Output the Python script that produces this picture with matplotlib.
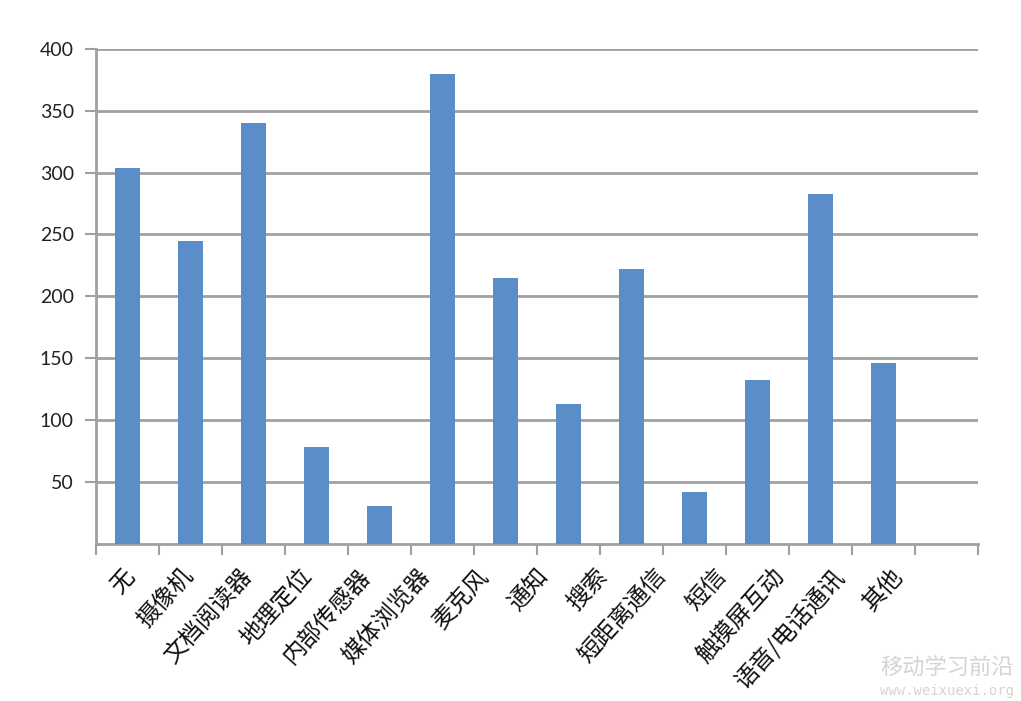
import numpy as np
import matplotlib
matplotlib.use('Agg')
import matplotlib.pyplot as plt

plt.rcParams['font.family'] = ['Noto Sans CJK SC', 'DejaVu Sans']

# categories as printed under the axis (14 labels, 13 bars drawn)
labels = ['无', '摄像机', '文档阅读器', '地理定位', '内部传感器', '媒体浏览器', '麦克风',
          '通知', '搜索', '短距离通信', '短信', '触摸屏互动', '语音/电话通讯', '其他']
values = [304, 245, 340, 78, 30, 380, 215, 113, 222, 42, 132, 283, 146]
yticks = [50, 100, 150, 200, 250, 300, 350, 400]

grid_c = '#a0a0a0'
bar_c = '#5b8ec8'

fig = plt.figure(figsize=(10.21, 7.01), dpi=100)
ax = fig.add_axes([96/1021, 1 - 543.5/701, (978 - 96)/1021, (543.5 - 49)/701])

x = np.arange(len(values))
ax.bar(x, values, width=0.39, color=bar_c, zorder=3)

ax.set_xlim(-0.5, 13.5)
ax.set_ylim(0, 400)

ax.set_yticks(yticks)
ax.set_yticklabels([str(v) for v in yticks], fontsize=14, color='#222222',
                   family=['Lato', 'DejaVu Sans'])
ax.yaxis.grid(True, color=grid_c, linewidth=2, zorder=0)
ax.tick_params(axis='y', length=8, width=1.5, color=grid_c, pad=8)

# tick marks on category boundaries, labels spread as in the picture
ax.set_xticks(np.arange(-0.5, 14, 1), minor=True)
ax.tick_params(axis='x', which='minor', length=8, width=1.5, color=grid_c)
lab_pos = np.linspace(-0.1, 12.12, len(labels))
ax.set_xticks(lab_pos)
ax.set_xticklabels(labels, rotation=48, ha='right', rotation_mode='anchor',
                   fontsize=17, color='#111111')
ax.tick_params(axis='x', which='major', length=0, pad=15)

for s in ['top', 'right']:
    ax.spines[s].set_visible(False)
ax.spines['left'].set_color(grid_c)
ax.spines['left'].set_linewidth(2)
ax.spines['bottom'].set_color(grid_c)
ax.spines['bottom'].set_linewidth(2)

# watermark
fig.text(0.862, 0.037, '移动学习前沿', fontsize=16, color='#d4d4d4')
fig.text(0.862, 0.008, 'www.weixuexi.org', fontsize=10, color='#d4d4d4',
         family='DejaVu Sans Mono')

fig.savefig('out.png', dpi=100)
